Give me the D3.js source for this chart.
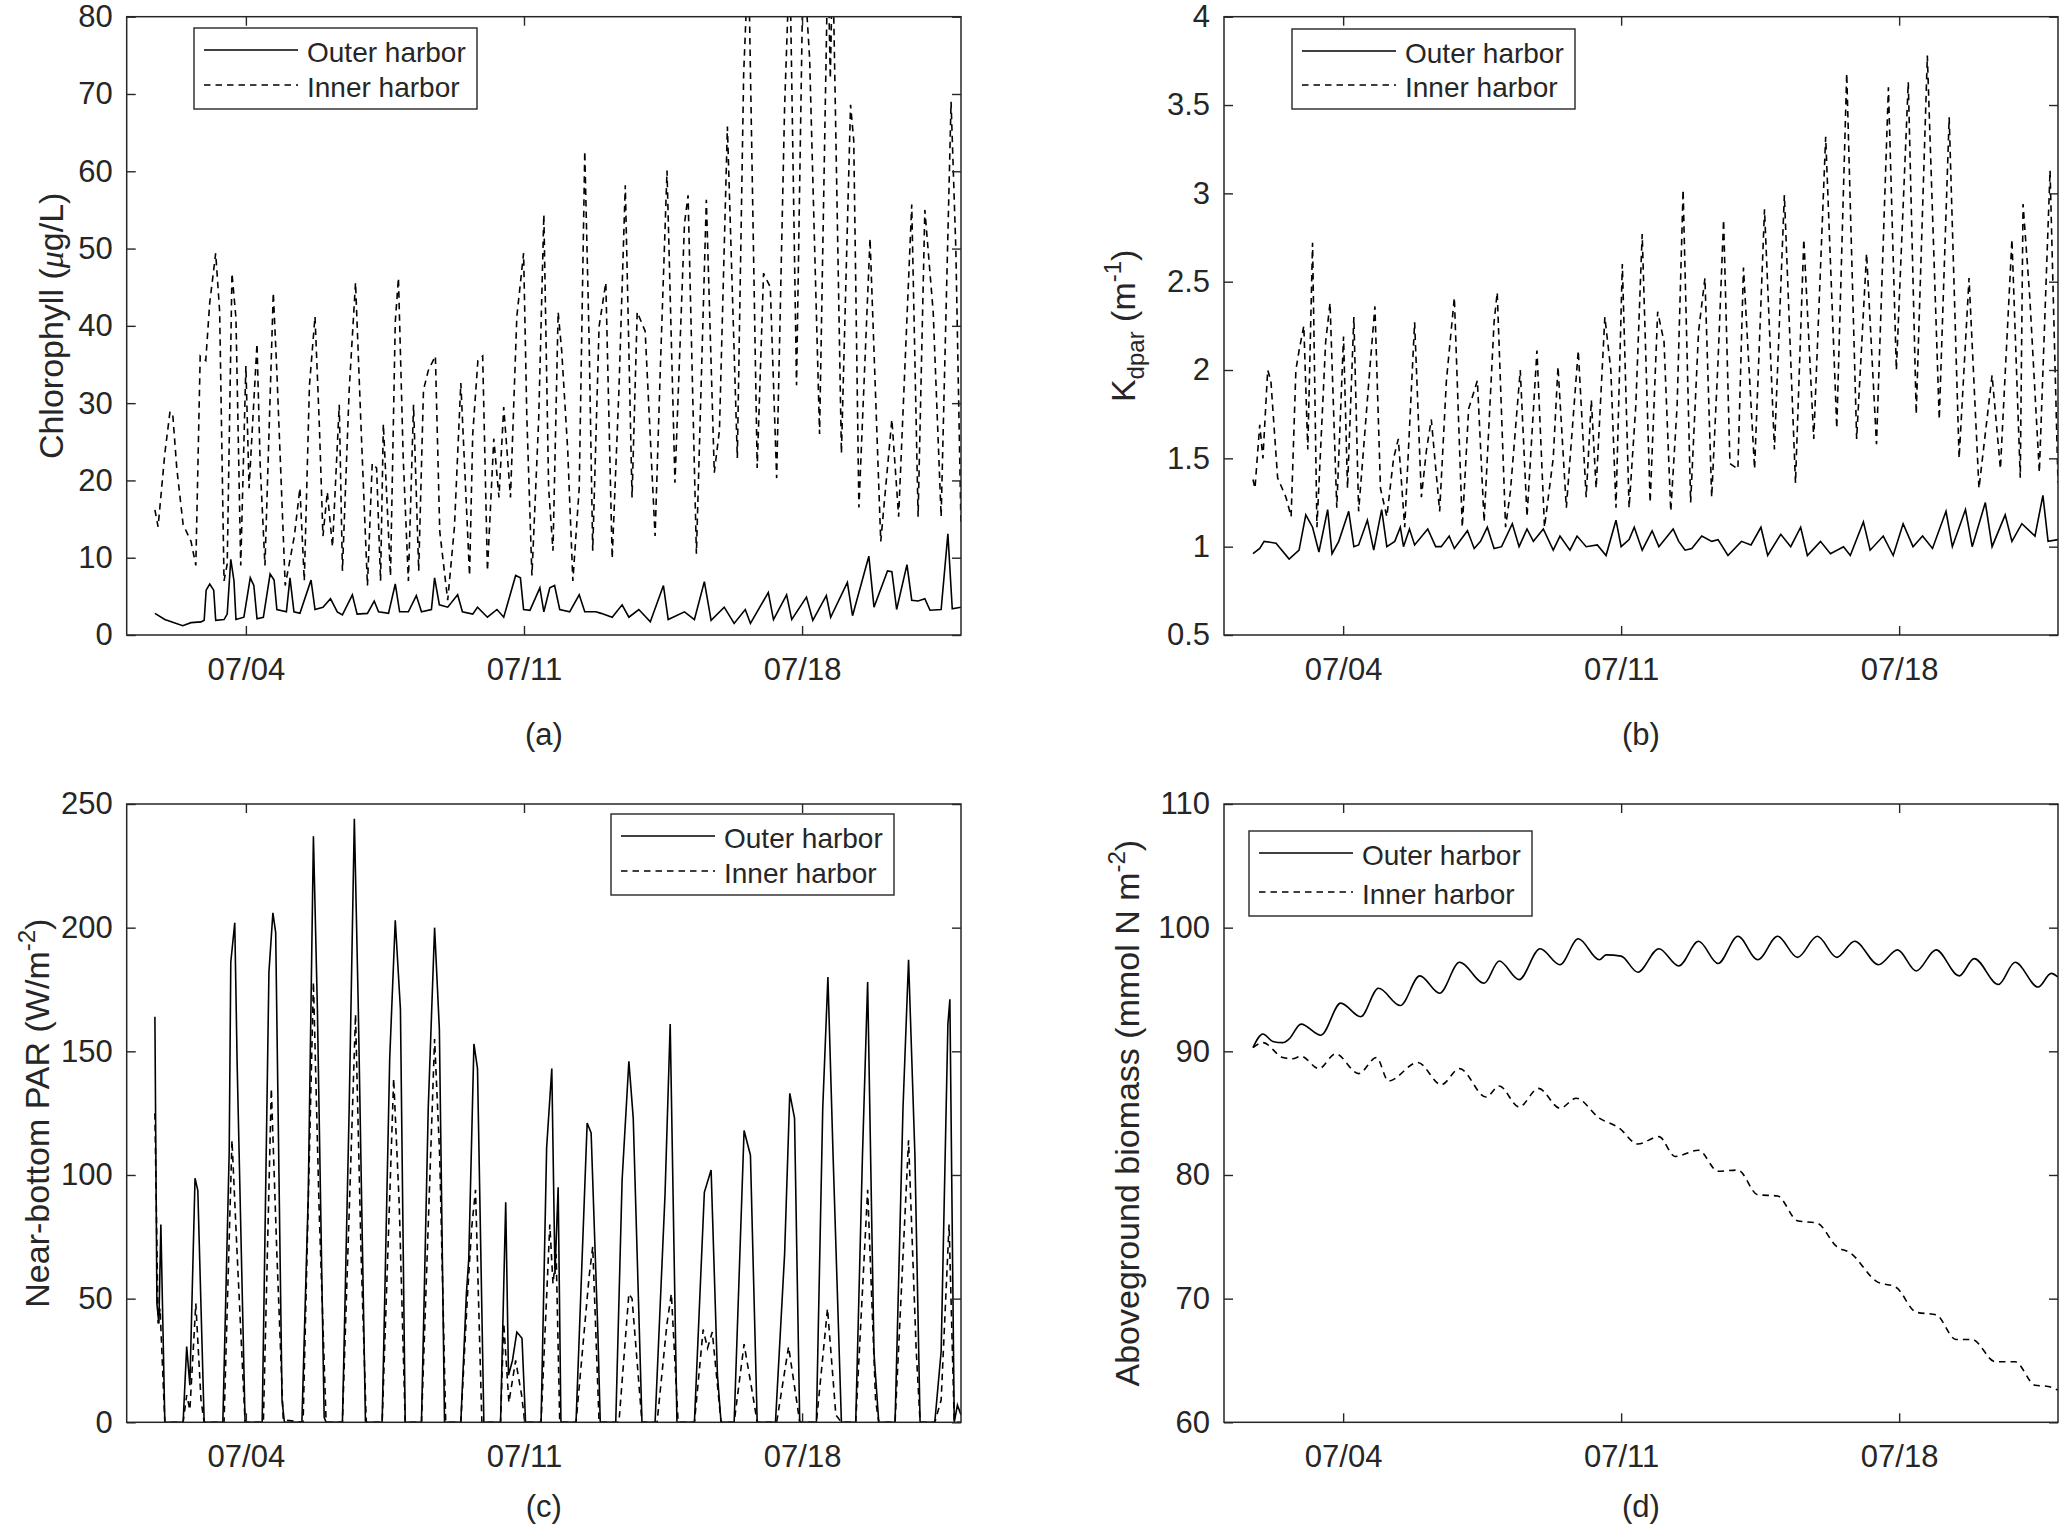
<!DOCTYPE html>
<html>
<meta charset="utf-8">
<style>
 body { margin: 0; background: #fff; }
 text { font-family: "Liberation Sans", Arial, Helvetica, sans-serif; fill: #262626; }
 .tick text { font-size: 31px; font-family: "Liberation Sans", Arial, sans-serif; fill: #262626; }
 .tick line { stroke: #262626; stroke-width: 1.4px; }
 .legend_text { font-size: 28px; }
 .y_label { font-size: 34px; }
 .panel_tag { font-size: 31px; }
</style>
<body>
<script src="https://d3js.org/d3.v7.min.js"></script>
<script>

var width = 2067
var height = 1531

// x values are days after 07/01 00:00
var dayTicks = [3, 10, 17];
var dayLabels = ["07/04", "07/11", "07/18"];

var chlTicks = [0, 10, 20, 30, 40, 50, 60, 70, 80];
var kdTicks = [0.5, 1, 1.5, 2, 2.5, 3, 3.5, 4];
var parTicks = [0, 50, 100, 150, 200, 250];
var bioTicks = [60, 70, 80, 90, 100, 110];

var seriesNames = ["Outer harbor", "Inner harbor"];

var chlOuter = [[0.71,2.8],[0.96,2.0],[1.41,1.2],[1.62,1.6],[1.87,1.7],[1.95,1.9],[2.00,5.8],[2.09,6.6],[2.19,5.8],[2.24,1.9],[2.45,2.0],[2.53,2.7],[2.62,9.8],[2.70,7.0],[2.75,2.0],[2.95,2.3],[3.11,7.4],[3.20,6.4],[3.28,2.1],[3.44,2.3],[3.61,7.9],[3.71,7.1],[3.78,3.3],[4.02,3.0],[4.11,7.4],[4.21,3.0],[4.36,2.8],[4.64,7.1],[4.74,3.3],[4.94,3.6],[5.13,4.7],[5.30,3.0],[5.43,2.6],[5.68,5.2],[5.80,2.7],[6.06,2.8],[6.23,4.4],[6.34,3.0],[6.59,2.8],[6.76,6.6],[6.87,3.0],[7.09,3.0],[7.29,5.1],[7.42,3.0],[7.67,3.3],[7.75,7.4],[7.87,3.9],[8.08,3.6],[8.33,5.2],[8.45,3.0],[8.71,2.7],[8.83,3.6],[9.08,2.3],[9.32,3.3],[9.49,2.3],[9.79,7.7],[9.91,7.4],[9.99,3.3],[10.15,3.2],[10.40,6.1],[10.50,3.0],[10.65,6.1],[10.77,6.4],[10.90,3.3],[11.15,3.0],[11.39,5.2],[11.53,3.0],[11.81,3.0],[11.94,2.8],[12.22,2.3],[12.47,3.9],[12.64,2.3],[12.89,3.3],[13.18,1.7],[13.51,6.4],[13.63,2.0],[14.04,3.0],[14.29,2.0],[14.54,6.9],[14.71,1.9],[15.04,3.6],[15.29,1.5],[15.57,3.3],[15.70,1.5],[16.15,5.5],[16.28,2.0],[16.61,5.2],[16.74,2.0],[17.11,4.9],[17.27,1.9],[17.61,5.1],[17.72,2.3],[18.14,6.8],[18.27,2.5],[18.68,10.2],[18.81,3.6],[19.15,8.3],[19.26,8.2],[19.38,3.3],[19.64,9.1],[19.76,4.5],[19.92,4.4],[20.09,4.7],[20.22,3.2],[20.50,3.3],[20.67,13.1],[20.78,3.4],[21.00,3.6]];

var chlInner = [[0.71,16.2],[0.79,14],[0.96,23.5],[1.09,28.9],[1.16,28.5],[1.26,21.6],[1.42,14.3],[1.62,12.1],[1.74,9],[1.85,36.1],[1.99,35.5],[2.09,43],[2.24,49.4],[2.34,41.8],[2.45,7],[2.53,9.2],[2.65,46.8],[2.75,41],[2.87,9],[3.00,34.8],[3.08,19],[3.28,37.7],[3.36,22],[3.48,9],[3.69,44.3],[3.78,34],[3.99,6.4],[4.22,12.8],[4.36,19],[4.47,7],[4.60,32.3],[4.74,41.2],[4.85,27],[4.94,12.8],[5.05,18.5],[5.18,11.4],[5.35,29.8],[5.43,8.3],[5.60,31.7],[5.76,45.6],[5.90,26.7],[6.06,6.4],[6.18,22.2],[6.29,21.6],[6.39,7],[6.46,27.3],[6.64,7.6],[6.76,40.5],[6.84,46.2],[6.96,22.9],[7.09,7],[7.22,29.8],[7.35,8.3],[7.47,31.7],[7.59,34.2],[7.77,36.1],[7.88,13.4],[8.08,4.5],[8.25,14],[8.41,32.6],[8.63,7.7],[8.71,26],[8.84,35.5],[8.96,36.1],[9.08,8.3],[9.24,25.4],[9.37,17.8],[9.49,29.5],[9.66,17.8],[9.82,41.2],[9.99,49.4],[10.07,28.5],[10.20,7.7],[10.37,27.9],[10.50,54.4],[10.62,19],[10.73,10.9],[10.86,41.8],[10.95,36.7],[11.10,24],[11.23,7],[11.39,19],[11.53,62.6],[11.64,38],[11.73,10.9],[11.89,39.9],[12.06,45.6],[12.22,9.9],[12.39,31.7],[12.55,58.2],[12.72,17.8],[12.85,41.8],[13.05,39.3],[13.30,12.8],[13.43,34.2],[13.60,60.1],[13.80,19.7],[14.04,53.2],[14.13,56.9],[14.34,10.5],[14.59,56.3],[14.79,21],[14.92,26.5],[15.12,65.8],[15.37,22.9],[15.53,72.7],[15.65,88],[15.87,21.6],[16.03,46.8],[16.20,45],[16.36,20.3],[16.56,68.3],[16.69,88],[16.86,32.3],[17.03,88],[17.19,74.6],[17.44,26],[17.65,88],[17.71,72],[17.77,88],[17.99,23.5],[18.22,68.6],[18.30,64],[18.43,16.5],[18.71,51.3],[18.98,12.1],[19.26,27.9],[19.43,15.3],[19.76,55.7],[19.92,15.3],[20.09,55],[20.30,41.8],[20.50,15.3],[20.75,69],[20.87,50],[21.00,14]];

var kdOuter = [[0.73,0.96],[0.90,0.99],[1.01,1.03],[1.31,1.02],[1.64,0.93],[1.89,0.98],[2.06,1.18],[2.23,1.11],[2.39,0.97],[2.61,1.21],[2.72,0.96],[2.89,1.03],[3.14,1.2],[3.27,1.0],[3.39,1.01],[3.61,1.15],[3.77,0.98],[3.97,1.21],[4.10,1.0],[4.30,1.03],[4.44,1.11],[4.52,1.0],[4.67,1.10],[4.80,1.01],[5.13,1.10],[5.33,1.0],[5.47,1.0],[5.67,1.06],[5.80,0.99],[6.13,1.09],[6.30,0.99],[6.46,1.03],[6.63,1.11],[6.80,0.99],[6.99,1.0],[7.26,1.13],[7.43,1.0],[7.63,1.10],[7.79,1.03],[8.04,1.10],[8.29,0.98],[8.46,1.06],[8.71,0.98],[8.89,1.06],[9.12,1.0],[9.40,1.01],[9.62,0.95],[9.87,1.15],[10.00,1.0],[10.20,1.04],[10.33,1.11],[10.53,0.98],[10.78,1.09],[10.95,1.0],[11.31,1.10],[11.45,1.03],[11.61,0.98],[11.78,0.99],[12.03,1.06],[12.28,1.03],[12.44,1.04],[12.69,0.95],[13.03,1.03],[13.27,1.01],[13.52,1.11],[13.69,0.95],[14.02,1.07],[14.27,1.0],[14.52,1.11],[14.69,0.95],[15.02,1.03],[15.27,0.96],[15.60,1.0],[15.77,0.95],[16.10,1.14],[16.27,0.98],[16.60,1.06],[16.85,0.95],[17.10,1.13],[17.35,1.0],[17.59,1.06],[17.84,0.99],[18.18,1.2],[18.34,1.0],[18.67,1.21],[18.84,1.0],[19.17,1.25],[19.34,1.0],[19.67,1.18],[19.84,1.03],[20.09,1.13],[20.42,1.06],[20.62,1.29],[20.75,1.03],[21.00,1.04]];

var kdInner = [[0.73,1.38],[0.78,1.33],[0.90,1.69],[0.98,1.5],[1.10,2.0],[1.18,1.94],[1.35,1.39],[1.56,1.28],[1.69,1.17],[1.81,2.0],[1.89,2.11],[2.01,2.25],[2.11,1.55],[2.23,2.72],[2.34,1.11],[2.56,2.16],[2.67,2.38],[2.84,1.22],[3.01,2.19],[3.11,1.33],[3.27,2.30],[3.39,1.2],[3.67,2.0],[3.80,2.36],[3.94,1.33],[4.10,1.17],[4.27,1.5],[4.39,1.61],[4.55,1.11],[4.80,2.27],[4.97,1.28],[5.10,1.55],[5.22,1.72],[5.43,1.2],[5.60,1.94],[5.80,2.41],[6.00,1.11],[6.16,1.78],[6.38,1.94],[6.55,1.14],[6.80,2.27],[6.88,2.44],[7.09,1.11],[7.21,1.31],[7.46,2.0],[7.63,1.17],[7.88,2.11],[8.07,1.11],[8.29,1.5],[8.41,2.02],[8.62,1.22],[8.92,2.11],[9.12,1.28],[9.25,1.83],[9.37,1.33],[9.59,2.30],[9.74,2.0],[9.87,1.22],[10.03,2.6],[10.20,1.22],[10.37,1.80],[10.53,2.77],[10.73,1.25],[10.92,2.33],[11.08,2.16],[11.25,1.2],[11.41,1.80],[11.56,3.02],[11.75,1.25],[11.95,2.22],[12.11,2.52],[12.28,1.28],[12.44,2.05],[12.58,2.85],[12.74,1.47],[12.94,1.44],[13.08,2.58],[13.36,1.44],[13.61,2.91],[13.86,1.55],[14.11,2.99],[14.39,1.36],[14.60,2.74],[14.85,1.61],[15.15,3.32],[15.43,1.67],[15.68,3.68],[15.93,1.61],[16.18,2.66],[16.43,1.58],[16.73,3.60],[16.93,2.0],[17.23,3.63],[17.43,1.75],[17.71,3.78],[18.01,1.72],[18.26,3.43],[18.51,1.5],[18.76,2.52],[19.01,1.33],[19.34,1.97],[19.55,1.44],[19.84,2.74],[20.05,1.39],[20.12,2.94],[20.29,2.41],[20.53,1.42],[20.80,3.13],[21.00,1.36]];

var parOuter = [[0.71,164],[0.76,48],[0.81,40],[0.86,80],[0.96,0],[1.42,0],[1.51,30.6],[1.59,15],[1.72,98.7],[1.79,93.7],[1.95,0],[2.42,0],[2.58,109.5],[2.62,186],[2.72,202],[2.78,145],[2.98,0],[3.41,0],[3.58,182],[3.68,206],[3.75,198],[3.91,8.9],[3.97,0],[4.41,0],[4.57,92],[4.70,237],[4.80,167],[4.97,2],[5.02,0],[5.43,0],[5.60,127],[5.73,244],[5.83,167],[6.01,0],[6.43,0],[6.62,147],[6.76,203],[6.89,167],[7.01,0],[7.42,0],[7.59,127],[7.75,200],[7.87,159],[8.00,0],[8.41,0],[8.55,52],[8.61,66],[8.74,153],[8.83,143],[8.99,0],[9.41,0],[9.54,89],[9.61,19],[9.71,25],[9.82,36.5],[9.95,34],[10.04,0],[10.43,0],[10.57,111],[10.70,143],[10.78,60],[10.86,95],[10.93,0],[11.31,0],[11.59,121],[11.69,117],[11.86,36],[11.92,0],[12.31,0],[12.47,98],[12.64,146],[12.75,123],[12.97,0],[13.30,0],[13.55,92],[13.68,161],[13.85,0],[14.29,0],[14.54,93],[14.71,102],[14.87,19],[14.96,0],[15.29,0],[15.54,118],[15.70,108],[15.87,0],[16.33,0],[16.56,68],[16.69,133],[16.81,123],[16.94,0],[17.36,0],[17.52,127],[17.65,180],[17.78,108],[17.99,0],[18.35,0],[18.52,108],[18.65,178],[18.81,28],[18.93,0],[19.34,0],[19.54,127],[19.68,187],[19.84,108],[19.97,0],[20.34,0],[20.50,28.6],[20.67,161],[20.72,171],[20.83,0],[20.91,7],[21.00,3]];

var parInner = [[0.71,125],[0.79,40],[0.84,46],[0.96,0],[1.42,0],[1.51,11],[1.59,5],[1.74,48],[1.87,9],[1.95,0],[2.45,0],[2.65,114],[2.78,68],[2.98,0],[3.44,0],[3.64,135],[3.78,68],[3.94,1],[4.44,0],[4.70,178],[4.84,88],[5.02,0],[5.43,0],[5.76,165],[5.90,68],[6.03,0],[6.43,0],[6.72,139],[6.86,88],[7.01,0],[7.42,0],[7.75,155],[7.88,107],[8.03,0],[8.41,0],[8.58,52],[8.68,78],[8.78,94],[8.94,0],[9.41,0],[9.49,40],[9.62,8],[9.79,25],[9.94,11],[10.02,0],[10.43,0],[10.65,80],[10.73,56],[10.81,68],[10.90,0],[11.31,0],[11.64,59],[11.73,71],[11.89,0],[12.39,0],[12.64,52],[12.72,50],[12.97,0],[13.35,0],[13.60,40],[13.71,52],[13.88,0],[14.29,0],[14.51,37.5],[14.62,30],[14.74,36.5],[14.96,0],[15.29,0],[15.54,31.6],[15.78,9],[15.87,0],[16.36,0],[16.66,30.6],[16.86,9],[16.94,0],[17.36,0],[17.64,46],[17.85,3],[17.99,0],[18.35,0],[18.65,94],[18.85,9],[18.93,0],[19.34,0],[19.68,114],[19.87,30],[19.97,0],[20.34,0],[20.50,9],[20.70,80],[20.83,0],[21.00,0]];

var bioOuter = [[0.73,90.3],[0.98,91.4],[1.23,90.8],[1.48,90.7],[1.64,91.0],[1.94,92.2],[2.44,91.3],[2.94,93.9],[3.44,92.8],[3.89,95.1],[4.44,93.7],[4.93,96.1],[5.43,94.7],[5.93,97.2],[6.55,95.5],[6.93,97.3],[7.43,95.8],[7.96,98.3],[8.46,97.0],[8.92,99.1],[9.45,97.4],[9.62,97.8],[10.00,97.7],[10.42,96.4],[10.95,98.3],[11.45,96.9],[11.95,98.9],[12.44,97.1],[12.94,99.3],[13.44,97.4],[13.94,99.3],[14.44,97.6],[14.94,99.3],[15.43,97.6],[15.88,98.9],[16.48,97.0],[16.96,98.2],[17.43,96.5],[17.93,98.2],[18.51,96.1],[18.89,97.5],[19.50,95.4],[19.92,97.2],[20.50,95.2],[20.83,96.3],[21.00,96.0]];

var bioInner = [[0.73,90.3],[0.98,90.7],[1.48,89.5],[1.73,89.4],[1.94,89.6],[2.39,88.6],[2.81,89.8],[3.39,88.2],[3.84,89.5],[4.14,87.6],[4.88,89.1],[5.47,87.3],[5.93,88.6],[6.60,86.3],[6.93,87.2],[7.43,85.5],[7.92,87.0],[8.46,85.4],[8.87,86.2],[9.45,84.6],[9.95,83.8],[10.42,82.5],[10.95,83.1],[11.36,81.5],[11.95,82.0],[12.44,80.3],[12.94,80.4],[13.44,78.4],[13.94,78.3],[14.44,76.3],[14.94,76.1],[15.43,74.2],[15.77,73.7],[16.43,71.4],[16.93,70.9],[17.43,68.9],[17.93,68.7],[18.43,66.7],[18.84,66.7],[19.42,64.9],[19.92,64.9],[20.42,63.0],[20.75,62.9],[21.00,62.6]];

var svg = d3.select("body")
      .append("svg")
      .attr("width", width)
      .attr("height", height);

svg.append("rect").attr("width", width).attr("height", height).attr("fill", "#fff");

var dash = "6.5,5";

function drawPanel(p) {
  var g = svg.append("g").attr("transform", "translate(" + p.x + "," + p.y + ")");
  var w = p.w, h = p.h;

  var x = d3.scaleLinear().domain([0, 21]).range([0, w]);
  var y = d3.scaleLinear().domain([p.yTicks[0], p.yTicks[p.yTicks.length - 1]]).range([h, 0]);

  g.append("clipPath").attr("id", "clip_" + p.id)
    .append("rect").attr("width", w).attr("height", h);

  var line = d3.line()
    .x(function (d) { return x(d[0]); })
    .y(function (d) { return y(d[1]); })
    .curve(p.smooth ? d3.curveMonotoneX : d3.curveLinear);

  var plot = g.append("g").attr("clip-path", "url(#clip_" + p.id + ")");
  plot.append("path").datum(p.inner)
    .attr("d", line).attr("fill", "none").attr("stroke", "#000")
    .attr("stroke-width", 1.6).attr("stroke-dasharray", dash);
  plot.append("path").datum(p.outer)
    .attr("d", line).attr("fill", "none").attr("stroke", "#000")
    .attr("stroke-width", 1.6);

  // axes with inward ticks on all four sides
  g.append("g").attr("transform", "translate(0," + h + ")")
    .call(d3.axisBottom(x).tickValues(dayTicks).tickSize(-9).tickSizeOuter(0).tickPadding(23)
      .tickFormat(function (d, i) { return dayLabels[i]; }));
  g.append("g")
    .call(d3.axisTop(x).tickValues(dayTicks).tickSize(-9).tickSizeOuter(0).tickFormat(""));
  g.append("g")
    .call(d3.axisLeft(y).tickValues(p.yTicks).tickSize(-9).tickSizeOuter(0).tickPadding(14)
      .tickFormat(function (d) { return String(d); }));
  g.append("g").attr("transform", "translate(" + w + ",0)")
    .call(d3.axisRight(y).tickValues(p.yTicks).tickSize(-9).tickSizeOuter(0).tickFormat(""));
  g.selectAll(".domain").remove();

  g.append("rect").attr("width", w).attr("height", h)
    .attr("fill", "none").attr("stroke", "#262626").attr("stroke-width", 1.5);

  // y label
  var lab = svg.append("text")
    .attr("class", "y_label")
    .attr("text-anchor", "middle")
    .attr("transform", "translate(" + p.labelX + "," + (p.y + h / 2) + ") rotate(-90)");
  var shift = 0;
  p.label.forEach(function (s) {
    var t = lab.append("tspan").text(s[0]);
    var want = 0;
    if (s[1] == "sub") { t.style("font-size", "24px"); want = 9; }
    if (s[1] == "sup") { t.style("font-size", "24px"); want = -14; }
    if (s[1] == "it") { t.style("font-style", "italic").style("font-family", "'Liberation Serif', 'DejaVu Serif', serif"); }
    if (want != shift) { t.attr("dy", want - shift); shift = want; }
  });

  // legend
  var lg = svg.append("g").attr("transform", "translate(" + p.legX + "," + p.legY + ")");
  lg.append("rect").attr("width", 283).attr("height", p.legH)
    .attr("fill", "#fff").attr("stroke", "#262626").attr("stroke-width", 1.4);
  var rows = [22, p.legH - 24];
  seriesNames.forEach(function (n, i) {
    lg.append("line").attr("x1", 10).attr("x2", 104).attr("y1", rows[i]).attr("y2", rows[i])
      .attr("stroke", "#000").attr("stroke-width", 1.6)
      .attr("stroke-dasharray", i == 1 ? dash : null);
    lg.append("text").attr("class", "legend_text")
      .attr("x", 113).attr("y", rows[i] + 11.5).text(n);
  });

  svg.append("text").attr("class", "panel_tag")
    .attr("text-anchor", "middle")
    .attr("x", p.x + w / 2).attr("y", p.tagY)
    .text(p.tag);
}

drawPanel({id: "a", x: 126.7, y: 16.7, w: 834.3, h: 618.3, yTicks: chlTicks,
  outer: chlOuter, inner: chlInner, labelX: 63,
  label: [["Chlorophyll (", ""], ["\u03bc", "it"], ["g/L)", ""]],
  legX: 194, legY: 28, legH: 81, tag: "(a)", tagY: 745});

drawPanel({id: "b", x: 1224, y: 16.7, w: 834, h: 618.3, yTicks: kdTicks,
  outer: kdOuter, inner: kdInner, labelX: 1135,
  label: [["K", ""], ["dpar", "sub"], [" (m", ""], ["-1", "sup"], [")", ""]],
  legX: 1292, legY: 29, legH: 80, tag: "(b)", tagY: 745});

drawPanel({id: "c", x: 126.7, y: 804, w: 834.3, h: 618.3, yTicks: parTicks,
  outer: parOuter, inner: parInner, labelX: 49,
  label: [["Near-bottom PAR (W/m", ""], ["-2", "sup"], [")", ""]],
  legX: 611, legY: 814, legH: 81, tag: "(c)", tagY: 1517});

drawPanel({id: "d", x: 1224, y: 804, w: 834, h: 618.3, yTicks: bioTicks,
  outer: bioOuter, inner: bioInner, labelX: 1139, smooth: true,
  label: [["Aboveground biomass (mmol N m", ""], ["-2", "sup"], [")", ""]],
  legX: 1249, legY: 831, legH: 85, tag: "(d)", tagY: 1517});

</script>
</body>
</html>
